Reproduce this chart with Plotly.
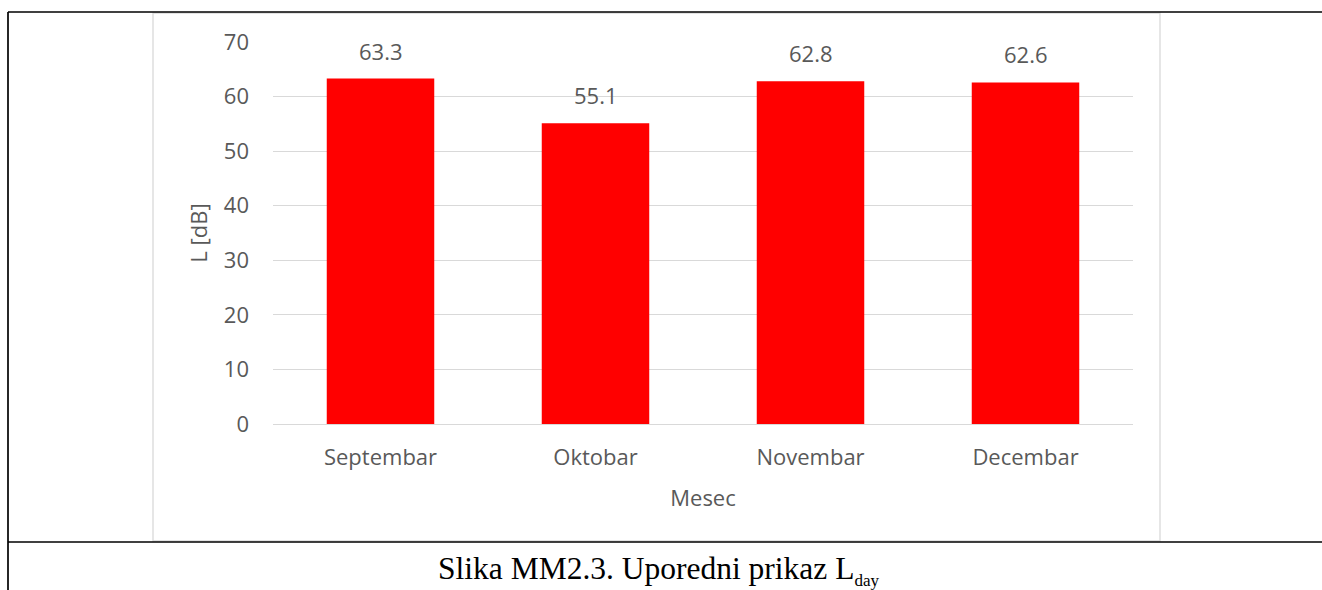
import plotly.graph_objects as go

months = ["Septembar", "Oktobar", "Novembar", "Decembar"]
lday = [63.3, 55.1, 62.8, 62.6]
y_ticks = [0, 10, 20, 30, 40, 50, 60, 70]

W, H = 1322, 590
L, R, T, B = 273, 1133, 42, 424  # plot area in pixels


def px(x):
    return (x - L) / (R - L)


def py(y):
    return (B - y) / (B - T)


TXT = "#595959"
FONT = "Open Sans, DejaVu Sans, sans-serif"
FS = 22

fig = go.Figure()
fig.add_trace(go.Bar(x=months, y=lday, marker=dict(color="#ff0000", line=dict(width=0)),
                     hoverinfo="x+y"))

for m, v in zip(months, lday):
    fig.add_annotation(x=m, y=v, text=f"{v:.1f}", showarrow=False, yanchor="bottom",
                       yshift=11, font=dict(family=FONT, size=FS, color=TXT))

shapes = [
    dict(type="rect", xref="paper", yref="paper", x0=px(153), x1=px(1160), y0=py(13), y1=py(541),
         line=dict(color="#d9d9d9", width=1.3), layer="below"),
    dict(type="line", xref="paper", yref="paper", x0=px(8), x1=px(1330), y0=py(12), y1=py(12),
         line=dict(color="black", width=1.7)),
    dict(type="line", xref="paper", yref="paper", x0=px(8), x1=px(8), y0=py(12), y1=py(600),
         line=dict(color="black", width=1.7)),
    dict(type="line", xref="paper", yref="paper", x0=px(8), x1=px(1330), y0=py(542), y1=py(542),
         line=dict(color="black", width=1.7)),
]

fig.add_annotation(xref="paper", yref="paper", x=px(658), y=py(570), showarrow=False,
                   text="Slika MM2.3. Uporedni prikaz L<sub><span style='font-size:17px'>day</span></sub>",
                   font=dict(family="Liberation Serif, Times New Roman, serif", size=31.5, color="black"),
                   xanchor="center", yanchor="middle")

fig.update_layout(
    width=W, height=H,
    margin=dict(l=L, r=W - R, t=T, b=H - B),
    paper_bgcolor="white", plot_bgcolor="white",
    bargap=0.5, showlegend=False,
    shapes=shapes,
    font=dict(family=FONT, size=FS, color=TXT),
    xaxis=dict(showgrid=False, showline=True, linecolor="#d9d9d9", linewidth=1.3,
               ticks="", ticklabelstandoff=13, tickfont=dict(size=FS, color=TXT),
               title=dict(text="Mesec", font=dict(size=FS, color=TXT), standoff=21)),
    yaxis=dict(range=[0, 70], tickvals=y_ticks, showgrid=True, gridcolor="#d9d9d9", gridwidth=1.3,
               zeroline=False, showline=False, ticks="", ticklabelstandoff=23,
               tickfont=dict(size=FS, color=TXT),
               title=dict(text="L [dB]", font=dict(size=FS, color=TXT), standoff=10)),
)

fig.write_html("out.html", config={"displayModeBar": False},
               post_script="document.body.style.margin='0px';")
